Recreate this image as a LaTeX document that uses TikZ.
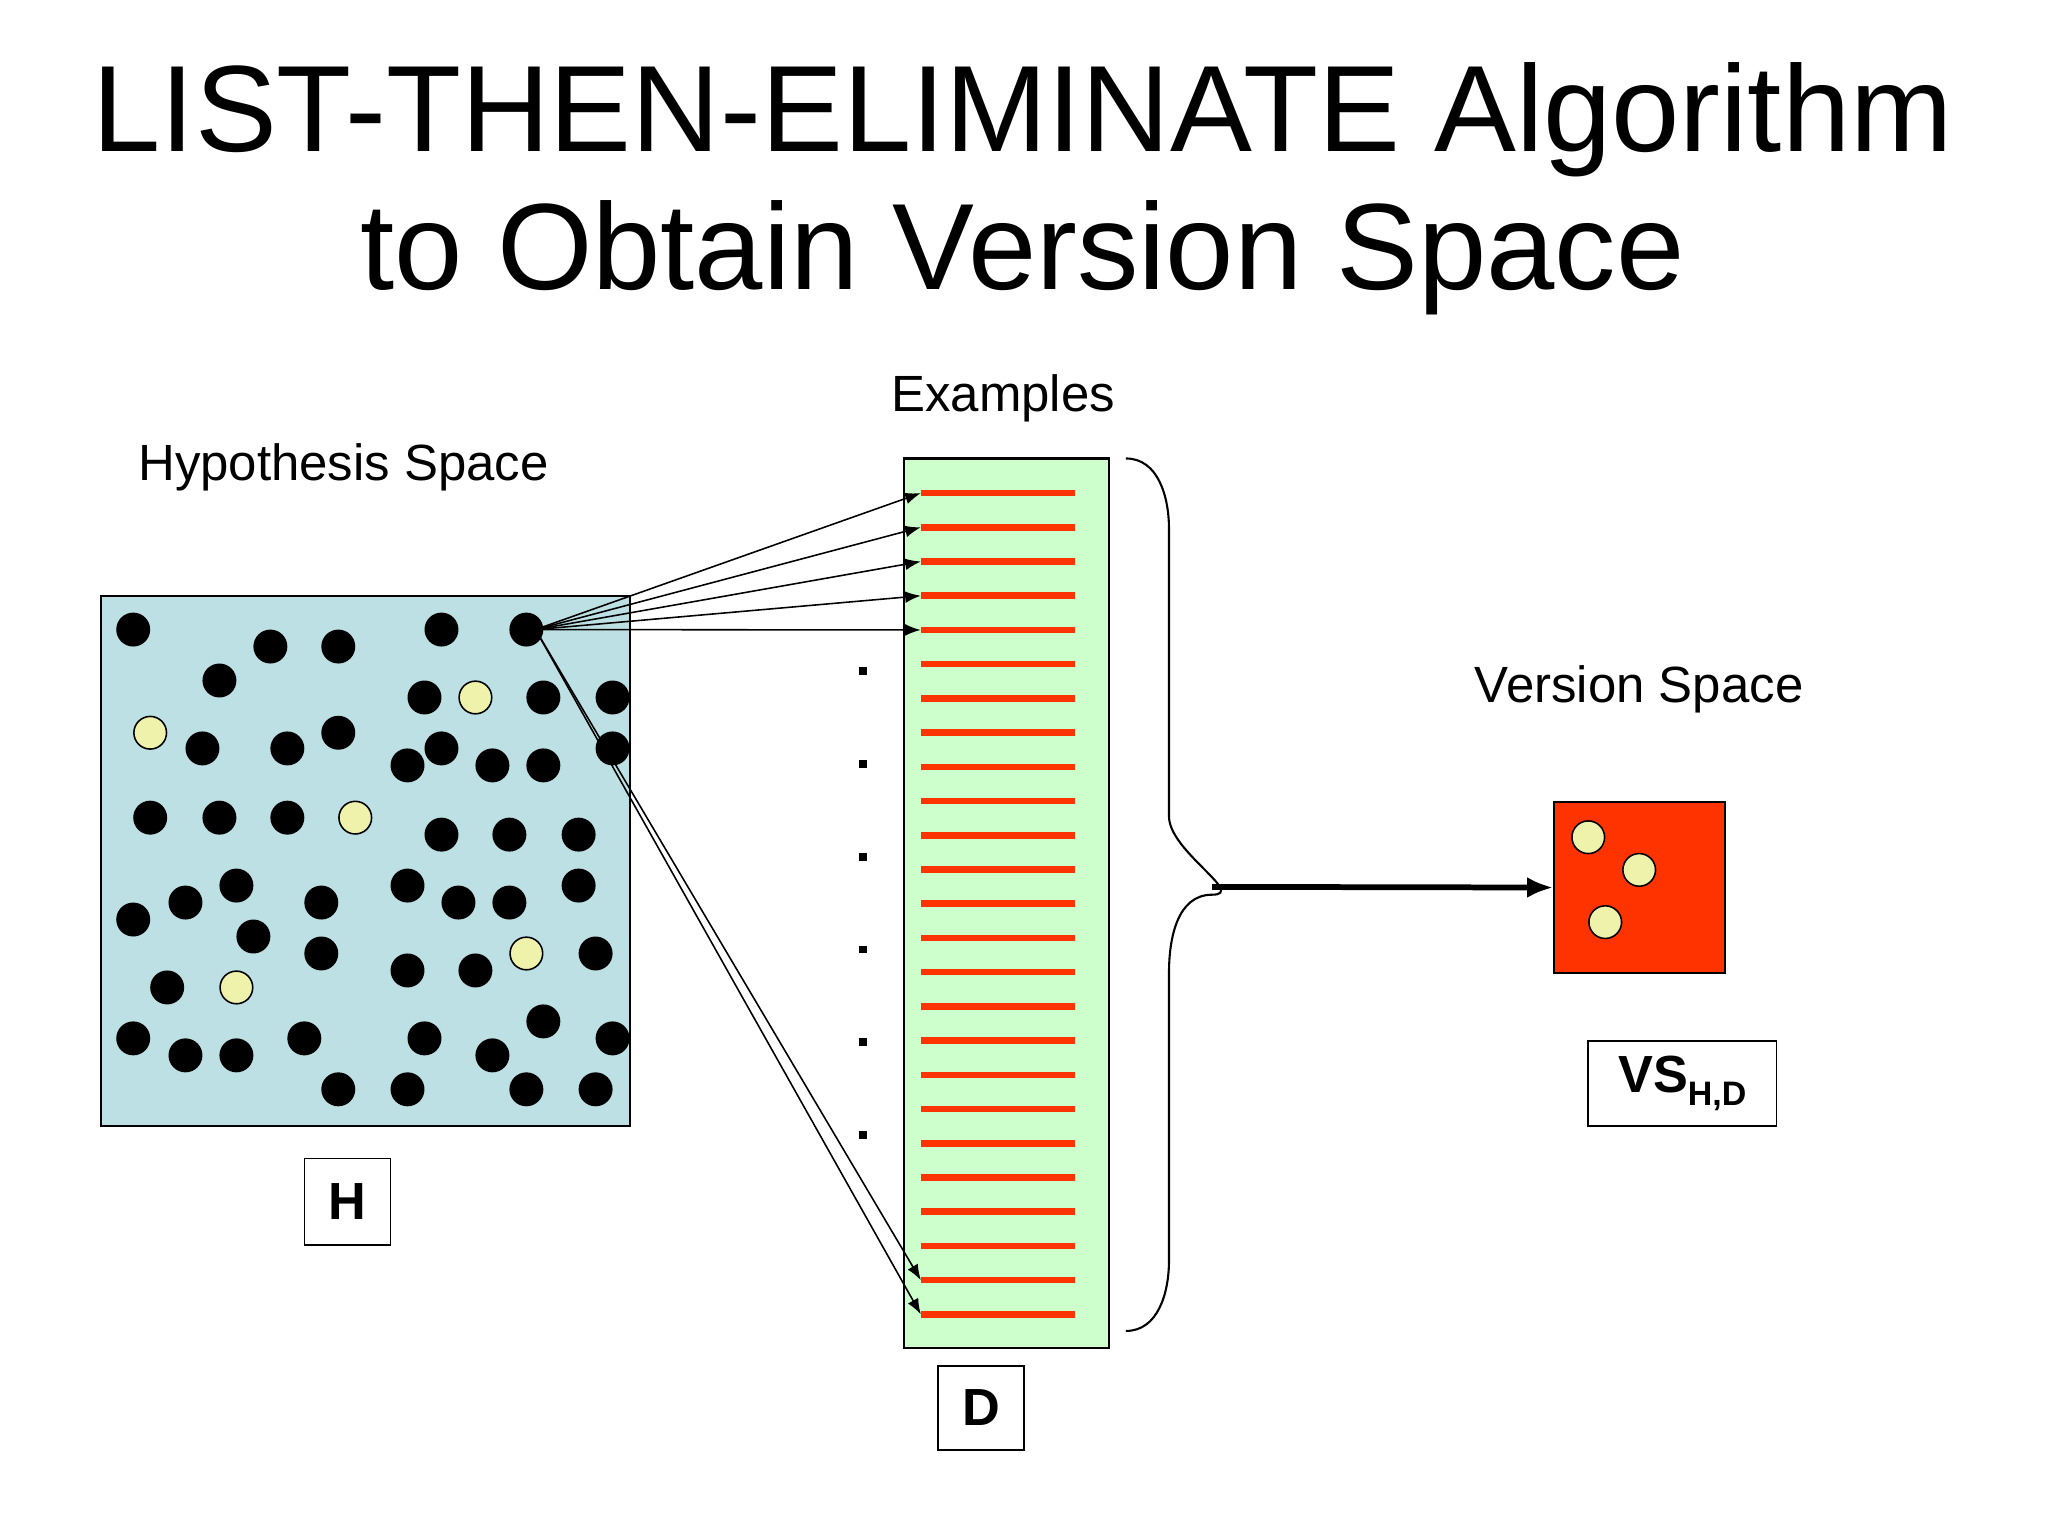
\documentclass[tikz,border=0pt]{standalone}
\usepackage{fontspec}
\setmainfont{Liberation Sans}
\usetikzlibrary{arrows.meta}
\definecolor{hbg}{RGB}{188,224,228}
\definecolor{dbg}{RGB}{204,255,204}
\definecolor{rline}{RGB}{255,51,0}
\definecolor{ylw}{RGB}{238,242,170}
\tikzset{
 bdot/.style={circle,fill=black,inner sep=0pt,minimum size=13pt},
 ydot/.style={circle,fill=ylw,draw=black,line width=0.6pt,inner sep=0pt,minimum size=12.5pt},
 lbl/.style={font=\fontsize{19.5}{22}\selectfont},
 tagbox/.style={draw=black,line width=0.6pt,fill=white,font=\fontsize{20}{22}\selectfont\bfseries},
 thin arr/.style={line width=0.6pt,-{Latex[length=6pt,width=4.5pt]}},
 rl/.style={rline,line width=2.5pt}
}
\begin{document}
\begin{tikzpicture}[x=0.5pt,y=-0.5pt]
\useasboundingbox (0,0) rectangle (1568,1174);
\node[font=\fontsize{47}{50}\selectfont] (t1) at (783,92) {LIST-THEN-ELIMINATE Algorithm};
\node[font=\fontsize{47}{50}\selectfont] (t2) at (783,197) {to Obtain Version Space};
\node[lbl] (hs) at (263,358) {Hypothesis Space};
\node[lbl] (ex) at (768,305) {Examples};
\node[lbl] (vsl) at (1255,528) {Version Space};
% hypothesis box
\draw[fill=hbg,line width=0.8pt] (77,456) rectangle (482,862);
\foreach \x/\y in {102/482,338/482,403/482,207/495,259/495,168/521,325/534,416/534,469/534,259/561,
155/573,220/573,338/573,469/573,312/586,377/586,416/586,115/626,168/626,220/626,338/639,390/639,443/639,
181/678,312/678,443/678,142/691,246/691,351/691,390/691,102/704,194/717,246/730,456/730,312/743,364/743,
128/756,416/782,102/795,233/795,325/795,469/795,142/808,181/808,377/808,259/834,312/834,403/834,456/834}
 \node[bdot] at (\x,\y) {};
\foreach \x/\y in {364/534,115/561,272/626,403/730,181/756}
 \node[ydot] at (\x,\y) {};
\coordinate (src) at (410,482);
% D box
\draw[fill=dbg,line width=0.8pt] (692,351) rectangle (849,1032);
\foreach \i in {0,...,24}{
 \coordinate (e\i) at (705,{377.5+26.2*\i});
 \draw[rl] (705,{377.5+26.2*\i}) -- (823,{377.5+26.2*\i});
}
\foreach \y in {514,585,656,727,798,869}
 \fill (658,\y-3) rectangle (664,\y+3);
\foreach \i in {0,...,4} \draw[thin arr] (src) -- (e\i);
\draw[thin arr] (src) -- (e23);
\draw[thin arr] (src) -- (e24);
% brace
\draw[line width=0.8pt] (862,351) to[out=0,in=90] (895,405) -- (895,625) to[out=-90,in=0] (928,685)
 to[out=180,in=90] (895,745) -- (895,965) to[out=-90,in=0] (862,1019);
\coordinate (bt) at (928,679);
% VS box
\node[draw=black,fill=rline,line width=0.8pt,minimum width=65.5pt,minimum height=65.5pt,inner sep=0pt] (vs) at (1255.5,679.5) {};
\node[ydot] at (1216,641) {};
\node[ydot] at (1255,666) {};
\node[ydot] at (1229,706) {};
\draw[line width=2.2pt,-{Latex[length=10pt,width=8pt]}] (bt) -- (vs.west);
% tags
\node[tagbox,minimum width=33pt,minimum height=33pt] (H) at (266,920) {H};
\node[tagbox,minimum width=33pt,minimum height=32pt] (D) at (751,1078) {D};
\node[tagbox,minimum width=72pt,minimum height=32.5pt] (VS) at (1288,829.5) {VS\raisebox{-0.45ex}{\fontsize{13}{14}\selectfont\bfseries H,D}};
\end{tikzpicture}
\end{document}
